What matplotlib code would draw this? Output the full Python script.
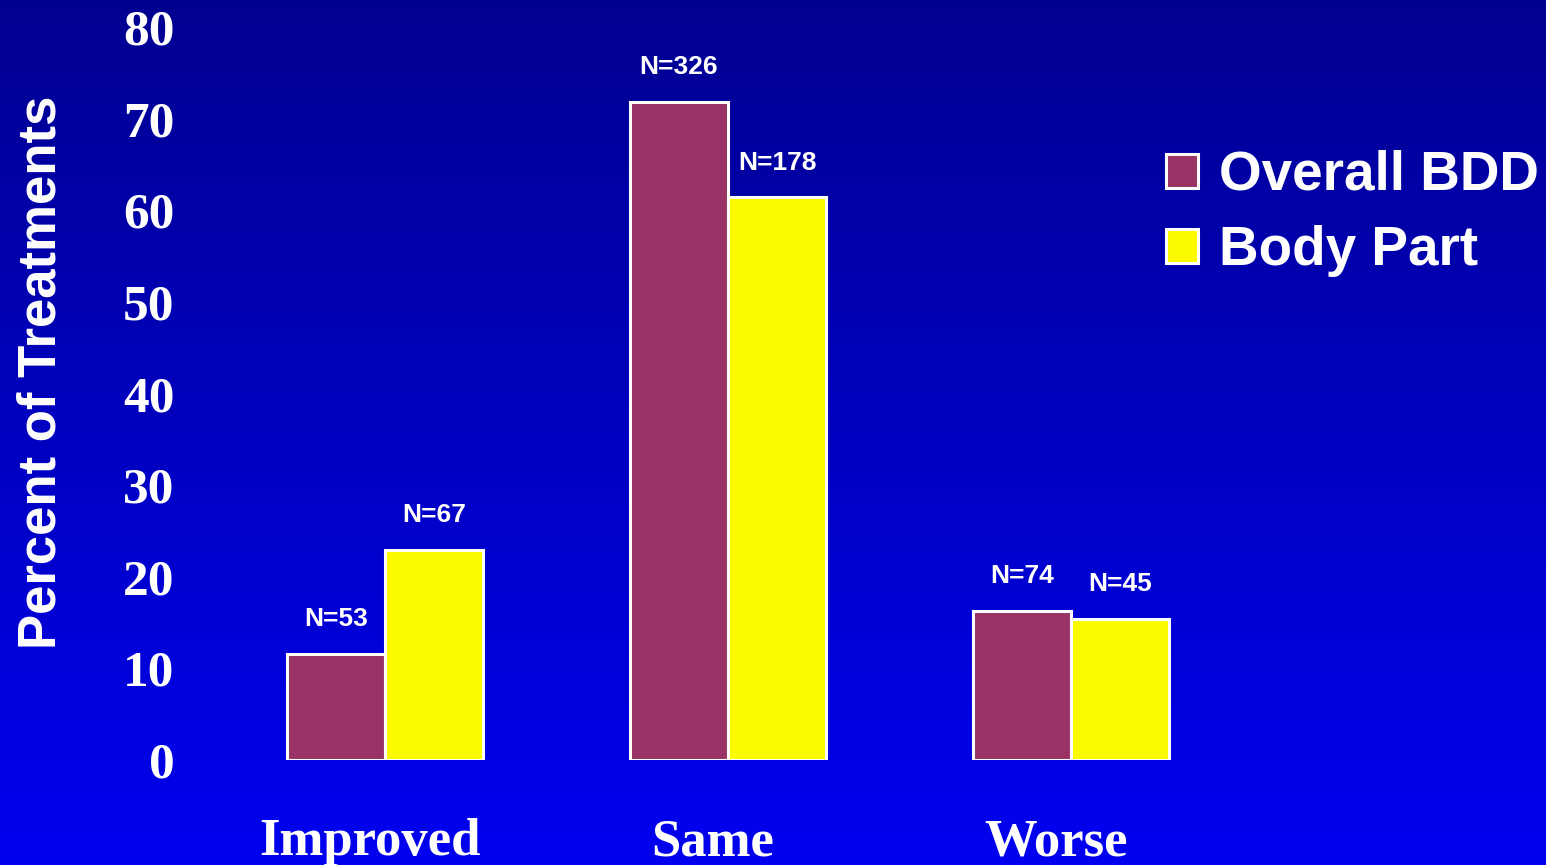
import numpy as np
import matplotlib
matplotlib.use("Agg")
import matplotlib.pyplot as plt
import matplotlib.transforms as mtransforms
from matplotlib.colors import LinearSegmentedColormap
from matplotlib.patches import Patch

categories = ["Improved", "Same", "Worse"]
series_names = ["Overall BDD", "Body Part"]
overall_bdd = [11.6, 71.8, 16.3]
body_part = [22.9, 61.4, 15.4]
overall_n = ["N=53", "N=326", "N=74"]
body_n = ["N=67", "N=178", "N=45"]
yticks = [0, 10, 20, 30, 40, 50, 60, 70, 80]

W, H = 1546, 865
fig = plt.figure(figsize=(W / 100, H / 100), dpi=100)

# gradient background
bg = fig.add_axes([0, 0, 1, 1], zorder=-10)
cmap = LinearSegmentedColormap.from_list("bg", ["#000090", "#0000F0"])
grad = np.linspace(0, 1, 256).reshape(-1, 1)
bg.imshow(grad, aspect="auto", cmap=cmap, extent=[0, 1, 0, 1], origin="upper")
bg.set_axis_off()

left_px, right_px, bottom_px, top_px = 200, 1546, 760, 27
ax = fig.add_axes([left_px / W, (H - bottom_px) / H,
                   (right_px - left_px) / W, (bottom_px - top_px) / H])
ax.set_facecolor("none")

x = np.arange(len(categories))
w = 0.286
c_overall = "#993366"
c_body = "#FAFA00"
b1 = ax.bar(x - w / 2, overall_bdd, w, color=c_overall, edgecolor="white", linewidth=2.2)
b2 = ax.bar(x + w / 2, body_part, w, color=c_body, edgecolor="white", linewidth=2.2)

for bars, labels in ((b1, overall_n), (b2, body_n)):
    for rect, lab in zip(bars, labels):
        ax.annotate(lab, (rect.get_x() + rect.get_width() / 2, rect.get_height()),
                    xytext=(0, 20), textcoords="offset points", ha="center", va="baseline",
                    color="white", fontsize=19, fontweight="bold", family="Liberation Sans")

ax.set_xlim((left_px - 385) / 343, (right_px - 385) / 343)
ax.set_ylim(0, 80)
ax.set_yticks(yticks)
ax.set_yticklabels([str(t) for t in yticks])
ax.set_xticks(x)
ax.set_xticklabels(categories)
for s in ax.spines.values():
    s.set_visible(False)
ax.tick_params(axis="y", length=0, pad=18.5, labelcolor="white", labelsize=37)
ax.tick_params(axis="x", length=0, pad=42, labelcolor="white", labelsize=38)
for lbl in ax.get_yticklabels() + ax.get_xticklabels():
    lbl.set_family("Liberation Serif")
    lbl.set_fontweight("bold")
offset = mtransforms.ScaledTranslation(-15 / 100, 0, fig.dpi_scale_trans)
for lbl in ax.get_xticklabels():
    lbl.set_transform(lbl.get_transform() + offset)

fig.text(42 / W, (H - 372) / H, "Percent of Treatments", rotation=90,
         ha="center", va="center", color="white", fontsize=38,
         fontweight="bold", family="Liberation Sans")

handles = [Patch(facecolor=c_overall, edgecolor="white", linewidth=2.2),
           Patch(facecolor=c_body, edgecolor="white", linewidth=2.2)]
leg = fig.legend(handles, series_names, loc="upper left",
                 bbox_to_anchor=(1166 / W, (H - 150) / H),
                 frameon=False, borderpad=0, borderaxespad=0,
                 handlelength=0.58, handleheight=0.58, handletextpad=0.38,
                 labelspacing=0.42,
                 prop={"family": "Liberation Sans", "weight": "bold", "size": 39.5})
for t in leg.get_texts():
    t.set_color("white")

fig.savefig("out.png", dpi=100)
